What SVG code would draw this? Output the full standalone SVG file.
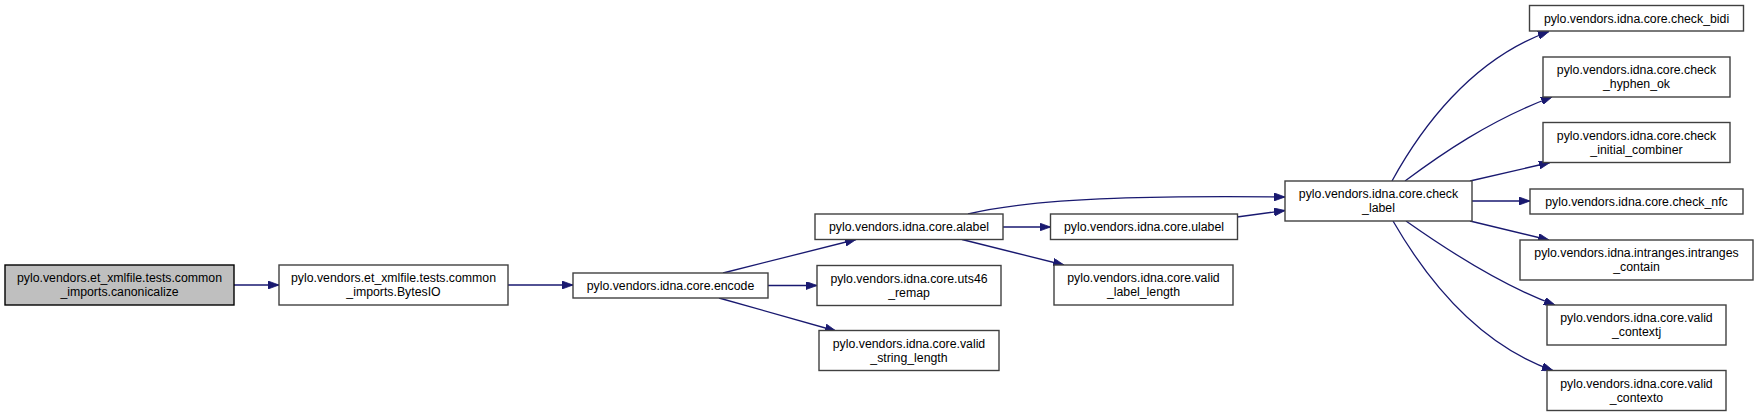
<svg xmlns="http://www.w3.org/2000/svg" width="1759" height="417" viewBox="0 0 1759 417">
<style>
.n rect{fill:#ffffff;stroke:#404040;stroke-width:1.4}
.n.root rect{fill:#bfbfbf;stroke:#000000}
.n text{font-family:"Liberation Sans",Arial,Helvetica,sans-serif;font-size:12.3px;fill:#000000;text-anchor:middle}
#edges path{fill:none;stroke:#191970;stroke-width:1.3;marker-end:url(#ah)}
</style>
<defs>
<marker id="ah" markerUnits="userSpaceOnUse" viewBox="0 0 11 8" refX="11" refY="4" markerWidth="11" markerHeight="8" orient="auto">
<path d="M0,0 L11,4 L0,8 z" fill="#191970" stroke="#191970" stroke-width="0.8"/>
</marker>
</defs>
<rect width="1759" height="417" fill="#ffffff"/>
<g id="edges">
<path d="M234,285 L279,285"/>
<path d="M508,285 L573,285"/>
<path d="M723,273 L856,239.5"/>
<path d="M768,285.5 L817,285.5"/>
<path d="M719,298 L836,331"/>
<path d="M968,214 C1040,196 1180,196 1285,197"/>
<path d="M1003,227 L1050.5,227"/>
<path d="M962,239.5 L1064,265"/>
<path d="M1237,217 L1285,210.5"/>
<path d="M1392,181 C1420,130 1470,60 1549,31.5"/>
<path d="M1405,181 C1440,155 1490,120 1552,97"/>
<path d="M1470,181 L1550,162.5"/>
<path d="M1472,201 L1530,201"/>
<path d="M1470,221 L1549,240"/>
<path d="M1406,221 C1440,245 1500,285 1555,305"/>
<path d="M1393,221 C1430,285 1480,345 1553,370.5"/>
</g>
<g id="node_canonicalize" class="n root"><rect x="5" y="265" width="229" height="40"/><text x="119.5" y="282">pylo.vendors.et_xmlfile.tests.common</text><text x="119.5" y="296">_imports.canonicalize</text></g>
<g id="node_bytesio" class="n"><rect x="279" y="265" width="229" height="40"/><text x="393.5" y="282">pylo.vendors.et_xmlfile.tests.common</text><text x="393.5" y="296">_imports.BytesIO</text></g>
<g id="node_encode" class="n"><rect x="573" y="273" width="195" height="25"/><text x="670.5" y="289.5">pylo.vendors.idna.core.encode</text></g>
<g id="node_alabel" class="n"><rect x="815" y="214" width="188" height="25.5"/><text x="909" y="231">pylo.vendors.idna.core.alabel</text></g>
<g id="node_uts46" class="n"><rect x="817" y="265.5" width="184" height="40"/><text x="909" y="282.5">pylo.vendors.idna.core.uts46</text><text x="909" y="296.5">_remap</text></g>
<g id="node_valid_string" class="n"><rect x="819" y="330.5" width="180" height="40"/><text x="909" y="347.5">pylo.vendors.idna.core.valid</text><text x="909" y="361.5">_string_length</text></g>
<g id="node_ulabel" class="n"><rect x="1050.5" y="214" width="187" height="25.5"/><text x="1144" y="231">pylo.vendors.idna.core.ulabel</text></g>
<g id="node_valid_label" class="n"><rect x="1054" y="265" width="179" height="40"/><text x="1143.5" y="282">pylo.vendors.idna.core.valid</text><text x="1143.5" y="296">_label_length</text></g>
<g id="node_check_label" class="n"><rect x="1285" y="181" width="187" height="40"/><text x="1378.5" y="198">pylo.vendors.idna.core.check</text><text x="1378.5" y="212">_label</text></g>
<g id="node_check_bidi" class="n"><rect x="1529.5" y="5.5" width="214" height="25.5"/><text x="1636.5" y="22.5">pylo.vendors.idna.core.check_bidi</text></g>
<g id="node_hyphen" class="n"><rect x="1543" y="57" width="187" height="40"/><text x="1636.5" y="74">pylo.vendors.idna.core.check</text><text x="1636.5" y="88">_hyphen_ok</text></g>
<g id="node_initial" class="n"><rect x="1543" y="122.5" width="187" height="40"/><text x="1636.5" y="139.5">pylo.vendors.idna.core.check</text><text x="1636.5" y="153.5">_initial_combiner</text></g>
<g id="node_nfc" class="n"><rect x="1530" y="189" width="213" height="25"/><text x="1636.5" y="205.5">pylo.vendors.idna.core.check_nfc</text></g>
<g id="node_intranges" class="n"><rect x="1520" y="240" width="233" height="40"/><text x="1636.5" y="257">pylo.vendors.idna.intranges.intranges</text><text x="1636.5" y="271">_contain</text></g>
<g id="node_contextj" class="n"><rect x="1547" y="305" width="179" height="40"/><text x="1636.5" y="322">pylo.vendors.idna.core.valid</text><text x="1636.5" y="336">_contextj</text></g>
<g id="node_contexto" class="n"><rect x="1547" y="370.5" width="179" height="40"/><text x="1636.5" y="387.5">pylo.vendors.idna.core.valid</text><text x="1636.5" y="401.5">_contexto</text></g>
</svg>
